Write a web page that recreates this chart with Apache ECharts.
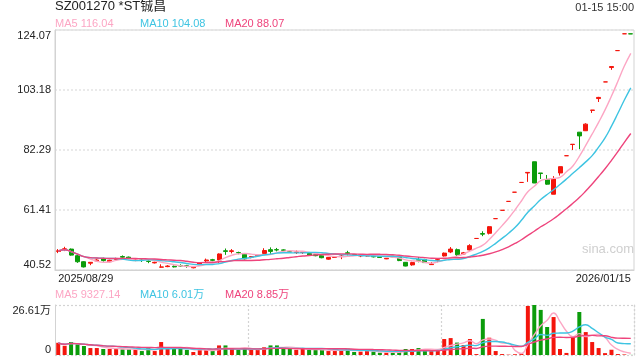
<!DOCTYPE html>
<html>
<head>
<meta charset="utf-8">
<script src="https://cdn.jsdelivr.net/npm/echarts@6/dist/echarts.min.js"></script>
<style>
  html, body { margin: 0; padding: 0; background: #fff; }
  #chart { width: 640px; height: 360px; }
</style>
</head>
<body>
<div id="chart"></div>
<script>
// 日K数据 [开, 收, 低, 高]
var ohlc = [
  [47.0, 47.2, 46.4, 47.8], [47.7, 47.9, 47.1, 48.6], [47.8, 45.7, 45.5, 48.0], [45.5, 43.4, 43.0, 45.9], [43.4, 41.6, 41.4, 43.6],
  [42.9, 43.2, 42.2, 43.3], [43.7, 44.0, 43.5, 44.3], [44.5, 43.8, 43.4, 44.8], [43.4, 43.9, 43.2, 44.1], [44.2, 44.5, 44.0, 44.8],
  [45.2, 45.0, 44.8, 45.6], [45.0, 44.5, 44.3, 45.2], [43.8, 44.0, 43.6, 44.2], [44.0, 43.9, 43.3, 44.4], [43.6, 43.5, 42.9, 43.9],
  [43.0, 43.2, 42.8, 43.4], [41.5, 41.6, 41.3, 42.5], [41.7, 41.9, 41.5, 42.2], [41.8, 41.6, 41.4, 42.1], [42.1, 41.9, 41.7, 42.5],
  [42.0, 41.8, 41.3, 42.3], [41.3, 41.5, 41.1, 41.6], [42.3, 43.1, 42.1, 43.2], [43.7, 44.0, 43.2, 44.5], [44.1, 43.9, 43.6, 44.4],
  [44.0, 46.1, 43.0, 46.3], [47.2, 47.0, 45.8, 48.0], [47.0, 47.2, 46.3, 47.8], [46.6, 46.5, 46.0, 46.9], [46.0, 44.4, 44.2, 46.3],
  [45.0, 45.2, 44.6, 45.4], [45.5, 45.8, 45.3, 46.0], [46.3, 47.3, 45.8, 48.1], [47.6, 47.0, 46.1, 48.4], [47.6, 47.5, 47.0, 48.2],
  [47.5, 47.4, 47.2, 47.7], [46.9, 46.8, 46.5, 47.1], [46.6, 46.8, 46.1, 47.3], [46.6, 46.7, 46.1, 47.0], [46.3, 45.6, 45.4, 46.4],
  [45.8, 45.5, 45.3, 46.0], [45.6, 44.8, 44.6, 45.8], [44.3, 44.9, 44.1, 45.0], [44.9, 45.0, 44.7, 45.2], [45.2, 45.4, 44.3, 46.1],
  [46.5, 46.3, 45.6, 47.2], [45.9, 45.8, 45.6, 46.1], [45.4, 45.6, 45.0, 46.1], [45.4, 45.5, 45.2, 45.7], [45.3, 45.1, 44.9, 45.4],
  [45.1, 44.9, 44.8, 45.2], [44.4, 44.6, 44.3, 44.7], [45.3, 45.1, 45.0, 45.4], [44.9, 43.8, 43.6, 45.1], [43.2, 41.9, 41.8, 43.3],
  [42.3, 43.1, 42.0, 43.4], [44.1, 43.9, 43.2, 45.0], [44.2, 43.1, 43.0, 44.4], [42.4, 42.6, 42.3, 43.3], [43.9, 44.1, 43.2, 44.7],
  [45.4, 46.4, 45.2, 46.6], [46.8, 47.8, 46.4, 48.5], [47.6, 45.8, 45.3, 48.0], [46.1, 46.5, 45.9, 46.8], [47.5, 49.0, 47.3, 49.5],
  [51.5, 51.5, 51.5, 51.5], [53.2, 53.0, 52.3, 54.0], [53.3, 55.6, 52.9, 55.8], [58.4, 58.4, 58.4, 58.4], [61.3, 61.3, 61.3, 61.3],
  [64.4, 64.4, 64.4, 64.4], [67.6, 67.6, 67.6, 67.6], [71.0, 71.0, 71.0, 71.0], [74.3, 74.5, 71.2, 74.5], [78.2, 70.8, 70.8, 78.2],
  [74.3, 74.1, 72.2, 74.3], [72.0, 70.4, 70.2, 73.6], [66.9, 72.2, 66.9, 73.2], [74.3, 76.5, 73.4, 76.5], [80.3, 80.3, 80.3, 80.3],
  [84.2, 84.3, 82.3, 84.3], [88.5, 87.2, 82.6, 88.5], [89.0, 91.3, 88.9, 91.6], [96.1, 96.2, 95.2, 96.2], [100.2, 100.6, 99.0, 100.8],
  [106.0, 106.0, 106.0, 106.0], [111.0, 111.35, 110.2, 111.35], [116.9, 116.9, 116.9, 116.9], [122.75, 122.75, 122.75, 122.75], [122.75, 122.7, 122.7, 122.75]
];

// 成交量(万)
var volumes = [
  6.5, 4.9, 6.9, 5.7, 4.8, 3.7, 3.7, 3.2, 3.2, 3.4,
  3.0, 3.0, 2.7, 2.1, 3.7, 2.1, 6.9, 3.4, 3.4, 3.4,
  2.7, 1.6, 2.7, 2.7, 2.3, 5.1, 5.1, 3.2, 2.7, 3.5,
  2.7, 2.7, 4.1, 5.1, 5.1, 3.2, 3.2, 2.8, 3.2, 2.7,
  2.7, 2.7, 2.1, 2.1, 2.7, 3.4, 1.6, 1.8, 2.3, 1.8,
  1.2, 1.2, 1.2, 2.1, 3.2, 3.2, 3.7, 3.0, 2.1, 2.8,
  8.5, 9.0, 6.6, 5.3, 8.5, 0.5, 19.2, 9.2, 2.1, 0.5,
  0.2, 0.4, 0.7, 26.1, 26.61, 24.0, 14.9, 20.2, 3.2, 1.1,
  9.4, 22.9, 12.2, 6.9, 3.7, 1.0, 2.8, 0.5, 0.3, 0.06
];

var dateLabels = ['2025/08/29', '2026/01/15'];
var priceTicks = ['40.52', '61.41', '82.29', '103.18', '124.07'];
var volTicks = ['0', '26.61万'];

var RED = '#f4150c', GREEN = '#0b9c0b';
var C5 = '#fca6c4', C10 = '#3ec4e2', C20 = '#ee447c';
var FONT = 'Liberation Sans, Arial, Noto Sans CJK SC, sans-serif';

// 均线(前面不足周期的取已有的平均)
function ma(arr, n) {
  var out = [];
  for (var i = 0; i < arr.length; i++) {
    var s = 0, c = 0;
    for (var j = Math.max(0, i - n + 1); j <= i; j++) { s += arr[j]; c++; }
    out.push(+(s / c).toFixed(2));
  }
  return out;
}

var N = ohlc.length;
var idx = [];
for (var i = 0; i < N; i++) idx.push(i);
var closes = ohlc.map(function (d) { return d[1]; });

// 成交量颜色跟K线涨跌
var volData = volumes.map(function (v, i) {
  var d = ohlc[i], up;
  if (d[1] > d[0]) up = true;
  else if (d[1] < d[0]) up = false;
  else up = i === 0 || ohlc[i - 1][1] <= d[1];
  return { value: v, itemStyle: { color: up ? RED : GREEN } };
});

function lineSeries(name, data, color, xi) {
  return {
    name: name, type: 'line', data: data, xAxisIndex: xi, yAxisIndex: xi,
    smooth: true, showSymbol: false, silent: true,
    lineStyle: { color: color, width: 1.4 }
  };
}

var chart = echarts.init(document.getElementById('chart'));
var option = {
  animation: false,
  textStyle: { fontFamily: FONT },
  grid: [
    { left: 55, right: 6, top: 30, height: 240, show: true, borderColor: '#d3d3d3', borderWidth: 1 },
    { left: 55, right: 6, top: 305, height: 50 }
  ],
  graphic: [
    { type: 'text', left: 55, top: 0, style: { text: 'SZ001270 *ST铖昌', fill: '#222', font: '13px ' + FONT } },
    { type: 'text', right: 6, top: 2, style: { text: '01-15 15:00', fill: '#333', font: '11px ' + FONT } },
    { type: 'text', left: 55, top: 18, style: { text: 'MA5 116.04', fill: C5, font: '11px ' + FONT } },
    { type: 'text', left: 140, top: 18, style: { text: 'MA10 104.08', fill: C10, font: '11px ' + FONT } },
    { type: 'text', left: 225, top: 18, style: { text: 'MA20 88.07', fill: C20, font: '11px ' + FONT } },
    { type: 'text', left: 55, top: 289, style: { text: 'MA5 9327.14', fill: C5, font: '11px ' + FONT } },
    { type: 'text', left: 140, top: 289, style: { text: 'MA10 6.01万', fill: C10, font: '11px ' + FONT } },
    { type: 'text', left: 225, top: 289, style: { text: 'MA20 8.85万', fill: C20, font: '11px ' + FONT } },
    { type: 'text', left: 582, top: 243, style: { text: 'sina.com', fill: '#cfcfcf', font: '13px ' + FONT } }
  ],
  xAxis: [
    {
      type: 'category', gridIndex: 0, data: idx, boundaryGap: true,
      axisLine: { lineStyle: { color: '#d3d3d3' } },
      axisTick: { show: false },
      splitLine: { show: false },
      axisLabel: {
        color: '#222', fontSize: 11, margin: 3,
        interval: function (i) { return i === 0 || i === N - 1; },
        formatter: function (v, i) { return i === 0 ? dateLabels[0] : dateLabels[1]; },
        alignMinLabel: 'left', alignMaxLabel: 'right'
      }
    },
    {
      type: 'category', gridIndex: 1, data: idx, boundaryGap: true,
      axisLine: { show: false }, axisTick: { show: false }, axisLabel: { show: false },
      splitLine: {
        show: true,
        interval: function (i) { return i === 30 || i === 60; },
        lineStyle: { color: '#d3d3d3', type: [2, 2], width: 1.2 }
      }
    }
  ],
  yAxis: [
    {
      type: 'value', gridIndex: 0, min: 40.52, max: 124.07, interval: 20.8875,
      axisLine: { show: true, lineStyle: { color: '#d3d3d3' } },
      axisTick: { show: false },
      splitLine: { lineStyle: { color: '#e3e3e3', type: [2, 2], width: 1.5 } },
      axisLabel: {
        color: '#222', fontSize: 11, margin: 4,
        formatter: function (v) {
          var k = Math.round((v - 40.52) / 20.8875);
          return priceTicks[k];
        },
        verticalAlignMinLabel: 'bottom', verticalAlignMaxLabel: 'top'
      }
    },
    {
      type: 'value', gridIndex: 1, min: 0, max: 26.61, interval: 26.61,
      axisLine: { show: true, lineStyle: { color: '#d3d3d3' } },
      axisTick: { show: false },
      splitLine: { lineStyle: { color: '#d3d3d3', type: [2, 2], width: 1.2 } },
      axisLabel: {
        color: '#222', fontSize: 11, margin: 4,
        formatter: function (v) { return v === 0 ? volTicks[0] : volTicks[1]; },
        verticalAlignMinLabel: 'bottom', verticalAlignMaxLabel: 'top'
      }
    },
    {
      type: 'value', gridIndex: 1, min: 0, max: 26.61, position: 'right',
      axisLine: { show: true, lineStyle: { color: '#d3d3d3', type: [2, 2], width: 1.2 } },
      axisTick: { show: false }, axisLabel: { show: false }, splitLine: { show: false }
    }
  ],
  series: [
    {
      type: 'candlestick', xAxisIndex: 0, yAxisIndex: 0, data: ohlc, barWidth: '70%',
      itemStyle: { color: RED, color0: GREEN, borderColor: RED, borderColor0: GREEN, borderColorDoji: RED, borderWidth: 1 }
    },
    lineSeries('MA5', ma(closes, 5), C5, 0),
    lineSeries('MA10', ma(closes, 10), C10, 0),
    lineSeries('MA20', ma(closes, 20), C20, 0),
    { type: 'bar', xAxisIndex: 1, yAxisIndex: 1, data: volData, barWidth: '62%' },
    lineSeries('VMA5', ma(volumes, 5), C5, 1),
    lineSeries('VMA10', ma(volumes, 10), C10, 1),
    lineSeries('VMA20', ma(volumes, 20), C20, 1)
  ]
};
chart.setOption(option);
</script>
</body>
</html>
